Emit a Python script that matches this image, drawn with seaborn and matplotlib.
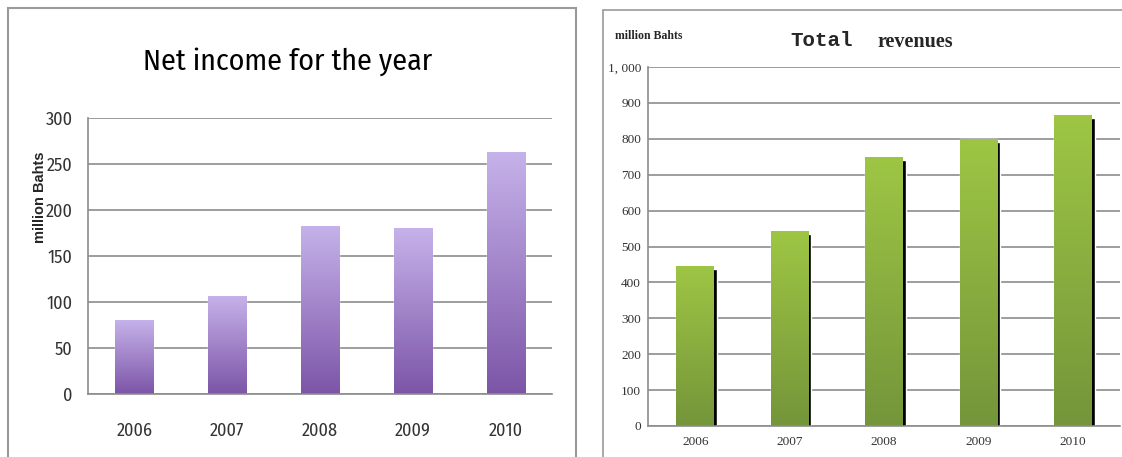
import numpy as np
import pandas as pd
import seaborn as sns
import matplotlib.pyplot as plt
from matplotlib.colors import LinearSegmentedColormap
from matplotlib.patches import Rectangle
from matplotlib.transforms import ScaledTranslation

years = ["2006", "2007", "2008", "2009", "2010"]
net_income = [80, 107, 183, 180, 263]
revenues = [446, 543, 749, 800, 866]
income_ticks = [0, 50, 100, 150, 200, 250, 300]
revenue_ticks = [0, 100, 200, 300, 400, 500, 600, 700, 800, 900, 1000]
revenue_labels = ["0", "100", "200", "300", "400", "500", "600", "700", "800", "900", "1, 000"]

sns.set_theme(style="white")
plt.rcParams["font.family"] = ["DejaVu Sans"]

W, H = 1122, 457
fig = plt.figure(figsize=(W / 100, H / 100), dpi=100)

# condensed sans first, falling back to calibri-like / default
narrow = ["Fira Sans Condensed", "Carlito", "Liberation Sans Narrow", "DejaVu Sans"]
serif = ["Liberation Serif", "DejaVu Serif"]


def px_axes(x0, y0, x1, y1):
    # pixel box (top-left origin) -> figure fraction
    return fig.add_axes([x0 / W, 1 - y1 / H, (x1 - x0) / W, (y1 - y0) / H])


def gradient(ax, patches, top, bottom):
    cmap = LinearSegmentedColormap.from_list("g", [bottom, top])
    grad = np.linspace(0, 1, 256).reshape(-1, 1)
    for p in patches:
        x0, y0, w, h = p.get_x(), p.get_y(), p.get_width(), p.get_height()
        im = ax.imshow(grad, extent=[x0, x0 + w, y0, y0 + h], origin="lower",
                       cmap=cmap, aspect="auto", zorder=2)
        im.set_clip_path(p)
        p.set_facecolor("none")


def cat_axis(ax, grid_color):
    ax.set_xlim(-0.5, len(years) - 0.5)
    ax.set_xticks(np.arange(-0.5, len(years)), minor=True)
    ax.tick_params(axis="x", which="major", length=0)
    ax.tick_params(axis="x", which="minor", length=5, color=grid_color, width=1, direction="out")
    ax.tick_params(axis="y", length=5, color=grid_color, width=1, direction="out")
    ax.grid(axis="y", color=grid_color, linewidth=1.2)
    ax.set_axisbelow(True)
    for s in ["top", "right"]:
        ax.spines[s].set_visible(False)
    for s in ["left", "bottom"]:
        ax.spines[s].set_color(grid_color)
        ax.spines[s].set_linewidth(1.2)
    ax.set_xlabel("")
    ax.set_ylabel("")


# panel frames
fig.add_artist(Rectangle((8 / W, -0.1), (576 - 8) / W, 1.1 - 8 / H, transform=fig.transFigure,
                         fill=False, edgecolor="#9a9a9a", linewidth=1.5))
fig.add_artist(Rectangle((603 / W, -0.1), 0.5, 1.1 - 10 / H, transform=fig.transFigure,
                         fill=False, edgecolor="#9a9a9a", linewidth=1.2))

# left: net income
df1 = pd.DataFrame({"year": years, "value": net_income})
ax1 = px_axes(88, 118, 552, 394)
sns.barplot(data=df1, x="year", y="value", ax=ax1, width=0.41, color="#a58fd0")
gradient(ax1, list(ax1.patches), "#c6b2ea", "#7c55a7")
cat_axis(ax1, "#8c8c8c")
ax1.set_ylim(0, 300)
ax1.set_yticks(income_ticks)
for lab in ax1.get_yticklabels() + ax1.get_xticklabels():
    lab.set_family(narrow)
    lab.set_fontsize(13)
    lab.set_color("#333333")
ax1.tick_params(axis="x", pad=20)
ax1.tick_params(axis="y", pad=6)
fig.text(288 / W, 1 - 62 / H, "Net income for the year", family=narrow, fontsize=21.5,
         ha="center", va="center", color="black")
fig.text(40 / W, 1 - 197 / H, "million Bahts", family=["Liberation Sans", "DejaVu Sans"],
         fontsize=10.5, fontweight="bold", rotation=90, ha="center", va="center")

# right: total revenues, black drop shadow behind each bar
df2 = pd.DataFrame({"year": years, "value": revenues})
ax2 = px_axes(648, 67, 1120, 426)
sns.barplot(data=df2, x="year", y="value", ax=ax2, width=0.40, color="black")
shadow = list(ax2.patches)
shift = ScaledTranslation(3 / 100, -3 / 100, fig.dpi_scale_trans)
for p in shadow:
    p.set_transform(ax2.transData + shift)
    p.set_zorder(1.9)
sns.barplot(data=df2, x="year", y="value", ax=ax2, width=0.40, color="#8ab040")
bars = list(ax2.patches)[len(shadow):]
gradient(ax2, bars, "#9ec644", "#74953a")
cat_axis(ax2, "#8c8c8c")
ax2.set_ylim(0, 1000)
ax2.set_yticks(revenue_ticks)
ax2.set_yticklabels(revenue_labels)
for lab in ax2.get_yticklabels() + ax2.get_xticklabels():
    lab.set_family(serif)
    lab.set_fontsize(9.5)
    lab.set_color("#333333")
ax2.tick_params(axis="x", pad=7)
ax2.tick_params(axis="y", pad=2, length=3)
fig.text(615 / W, 1 - 36 / H, "million Bahts", family=serif, fontsize=8.5,
         fontweight="bold", ha="left", va="center")
fig.text(790 / W, 1 - 46 / H, "Total", family=["Liberation Mono", "DejaVu Sans Mono"],
         fontsize=15, fontweight="bold", ha="left", va="baseline")
fig.text(877 / W, 1 - 47 / H, "revenues", family=serif, fontsize=14.5,
         fontweight="bold", ha="left", va="baseline")

fig.savefig("out.png", dpi=100)
